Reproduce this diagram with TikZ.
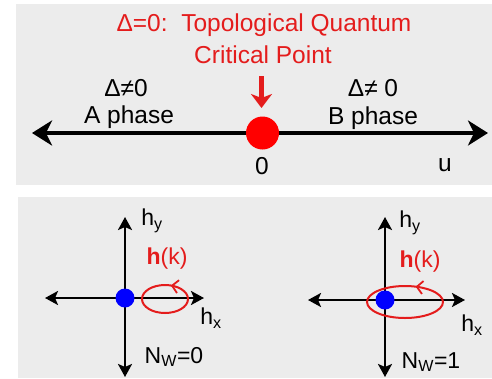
\documentclass[tikz,border=0pt]{standalone}
\usepackage{fontspec}
\setmainfont{Liberation Sans}
\usetikzlibrary{arrows.meta,decorations.markings}
\definecolor{panel}{RGB}{236,236,236}
\definecolor{tred}{RGB}{228,28,28}
\definecolor{dred}{RGB}{255,0,0}
\definecolor{dblue}{RGB}{0,0,255}
\tikzset{
  lbl/.style={inner sep=0pt, font=\fontsize{24.5}{28}\selectfont},
  slbl/.style={inner sep=0pt, font=\fontsize{23}{26}\selectfont},
  bigaxis/.style={line width=3.4pt, {Stealth[length=20pt,width=25pt,inset=6pt]}-{Stealth[length=20pt,width=25pt,inset=6pt]}},
  smallaxis/.style={line width=2.8pt, {Stealth[length=13pt,width=14pt,inset=3pt]}-{Stealth[length=13pt,width=14pt,inset=3pt]}},
  orbit/.style={draw=tred, line width=2pt},
}
\begin{document}
\begin{tikzpicture}[x=1pt,y=-1pt]
\useasboundingbox[fill=white] (0,0) rectangle (492,378);
% panels
\fill[panel] (16,4) rectangle (492,185);
\fill[panel] (18,197) rectangle (492,378);

% ---- top panel ----
\node[lbl, text=tred] (t1) at (264,25) {Δ=0:\ \ Topological Quantum};
\node[lbl, text=tred] (t2) at (263,55) {Critical Point};
\node[lbl] (dl) at (126,88) {Δ≠0};
\node[lbl] (pa) at (129,117) {A phase};
\node[lbl] (dr) at (373,88) {Δ≠ 0};
\node[lbl] (pb) at (373,118) {B phase};
\coordinate (ul) at (32,133);
\coordinate (ur) at (488,133);
\draw[bigaxis] (ul) -- (ur);
\node[circle, fill=dred, minimum size=33pt, inner sep=0pt] (dot) at (262.5,133) {};
\coordinate (as) at (261.5,76);
\coordinate (ae) at (261.5,108);
\draw[tred, line width=5pt, -{Stealth[length=14pt,width=21pt,inset=4pt]}] (as) -- (ae);
\node[lbl] (zero) at (262,166) {0};
\node[lbl] (u) at (445,165) {u};

% ---- bottom left ----
\coordinate (lxl) at (45,298);
\coordinate (lxr) at (204,298);
\coordinate (lyt) at (125,217);
\coordinate (lyb) at (125,377);
\draw[smallaxis] (lxl) -- (lxr);
\draw[smallaxis] (lyb) -- (lyt);
\node[circle, fill=dblue, minimum size=19pt, inner sep=0pt] (bl) at (125,298) {};
\draw[orbit, decoration={markings, mark=at position 0.2 with {\arrow{Straight Barb[length=6pt,width=13pt,line width=1.8pt]}}}, postaction={decorate}]
  (188,299) arc[start angle=0, end angle=-360, x radius=23, y radius=14];
\node[slbl] (hyl) at (152,221) {h\textsubscript{y}};
\node[slbl, text=tred] (hkl) at (167,259) {\textbf{h}(k)};
\node[slbl] (hxl) at (211,318) {h\textsubscript{x}};
\node[slbl] (nwl) at (174,357) {N\textsubscript{W}=0};

% ---- bottom right ----
\coordinate (rxl) at (308,300);
\coordinate (rxr) at (465,300);
\coordinate (ryt) at (385,217);
\coordinate (ryb) at (385,377);
\draw[smallaxis] (rxl) -- (rxr);
\draw[smallaxis] (ryb) -- (ryt);
\draw[orbit, decoration={markings, mark=at position 0.19 with {\arrow{Straight Barb[length=6pt,width=13pt,line width=1.8pt]}}}, postaction={decorate}]
  (443,302) arc[start angle=0, end angle=-360, x radius=38, y radius=16];
\node[circle, fill=dblue, minimum size=19pt, inner sep=0pt] (br) at (385,300) {};
\node[slbl] (hyr) at (410,223) {h\textsubscript{y}};
\node[slbl, text=tred] (hkr) at (420,262) {\textbf{h}(k)};
\node[slbl] (hxr) at (472,325) {h\textsubscript{x}};
\node[slbl] (nwr) at (431,362) {N\textsubscript{W}=1};
\end{tikzpicture}
\end{document}
